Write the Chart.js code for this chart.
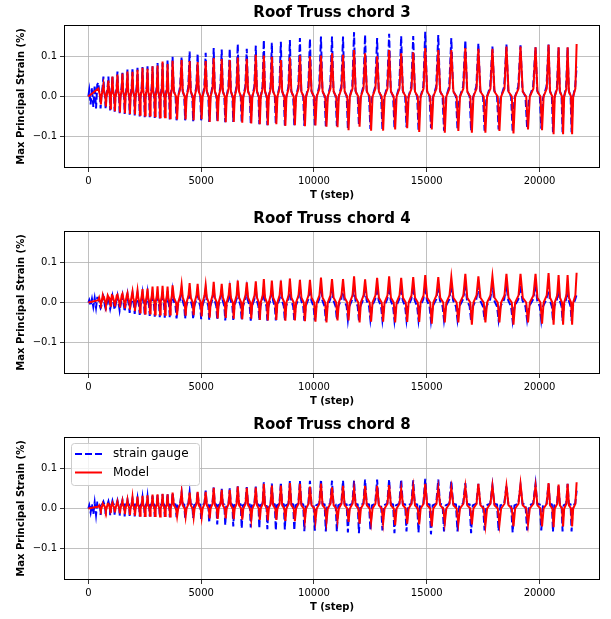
<!DOCTYPE html>
<html lang="en">
<head>
<meta charset="UTF-8">
<title>Roof Truss chords</title>
<script src="https://cdn.jsdelivr.net/npm/chart.js"></script>
<style>
  body { margin: 0; padding: 0; background: #fff; }
  .panel { position: absolute; left: 0; width: 611px; height: 206px; }
</style>
</head>
<body>
<div class="panel" style="top:0px"><canvas id="chord3" width="611" height="206"></canvas></div>
<div class="panel" style="top:206px"><canvas id="chord4" width="611" height="206"></canvas></div>
<div class="panel" style="top:412px"><canvas id="chord8" width="611" height="206"></canvas></div>
<script>
// peak times of each loading cycle (steps), shared by all chords
const cycleSteps = [444, 667, 889, 1067, 1289, 1511, 1733, 1956, 2178, 2400,
  2622, 2844, 3067, 3289, 3511, 3733, 4133, 4489, 4844, 5200,
  5556, 5911, 6267, 6622, 7022, 7422, 7778, 8133, 8533, 8933,
  9378, 9822, 10311, 10800, 11289, 11778, 12267, 12800, 13333, 13867,
  14400, 14933, 15511, 16089, 16711, 17289, 17911, 18533, 19156, 19822,
  20400, 20844, 21244, 21644];

// where inside a cycle the plateau / trough points sit (fraction of cycle)
const modelPhase = [0.15, 0.38, 0.5, 0.62, 0.86];
const gaugePhase = [0.13, 0.33, 0.44, 0.57, 0.84];

// chord 3
const c3ModelPeaks = [0.02, 0.03, 0.04, 0.05, 0.055, 0.058, 0.063, 0.062, 0.067, 0.072,
  0.07, 0.076, 0.078, 0.088, 0.082, 0.09, 0.092, 0.089, 0.087, 0.089,
  0.097, 0.094, 0.092, 0.098, 0.095, 0.105, 0.103, 0.1, 0.092, 0.098,
  0.103, 0.101, 0.103, 0.109, 0.105, 0.117, 0.109, 0.101, 0.117, 0.109,
  0.111, 0.122, 0.117, 0.117, 0.122, 0.12, 0.12, 0.126, 0.126, 0.124,
  0.13, 0.124, 0.124, 0.132];
const c3ModelTroughs = [-0.02, -0.025, -0.03, -0.037, -0.04, -0.042, -0.044, -0.045, -0.046, -0.048,
  -0.048, -0.05, -0.052, -0.052, -0.055, -0.058, -0.058, -0.06, -0.057, -0.064,
  -0.062, -0.065, -0.064, -0.066, -0.068, -0.07, -0.072, -0.07, -0.074, -0.072,
  -0.075, -0.073, -0.076, -0.077, -0.085, -0.076, -0.086, -0.086, -0.083, -0.08,
  -0.089, -0.083, -0.091, -0.087, -0.091, -0.091, -0.087, -0.093, -0.083, -0.085,
  -0.095, -0.095, -0.095];
const c3GaugePeaks = [0.035, 0.05, 0.05, 0.052, 0.063, 0.063, 0.068, 0.072, 0.072, 0.074,
  0.076, 0.076, 0.084, 0.084, 0.092, 0.1, 0.1, 0.113, 0.108, 0.11,
  0.122, 0.118, 0.12, 0.132, 0.12, 0.128, 0.142, 0.135, 0.138, 0.142,
  0.147, 0.145, 0.151, 0.151, 0.151, 0.162, 0.155, 0.147, 0.158, 0.152,
  0.152, 0.163, 0.155, 0.147, 0.142, 0.134, 0.126, 0.131, 0.129, 0.124,
  0.131, 0.123, 0.123, 0.075];
const c3GaugeTroughs = [-0.03, -0.032, -0.035, -0.038, -0.042, -0.044, -0.046, -0.048, -0.05, -0.052,
  -0.052, -0.054, -0.056, -0.056, -0.058, -0.06, -0.06, -0.062, -0.06, -0.064,
  -0.062, -0.065, -0.064, -0.066, -0.068, -0.07, -0.072, -0.07, -0.073, -0.072,
  -0.074, -0.072, -0.075, -0.074, -0.081, -0.073, -0.082, -0.082, -0.079, -0.077,
  -0.085, -0.079, -0.086, -0.083, -0.086, -0.086, -0.083, -0.088, -0.08, -0.081,
  -0.09, -0.09, -0.09];
// fast small wiggle of the gauge before the first cycle: [step, value]
const c3GaugeLead = [[40, 0.016], [100, -0.02], [160, 0.022], [220, -0.026], [280, 0.028], [340, -0.03], [395, 0.03]];
const c3ModelLevels = [0.012, 0.0, 0.0, 0.02];
const c3GaugeLevels = [0.015, 0.0, -0.005, 0.025];

// chord 4
const c4ModelPeaks = [0.006, 0.01, 0.014, 0.017, 0.02, 0.022, 0.024, 0.028, 0.031, 0.034,
  0.035, 0.04, 0.041, 0.042, 0.04, 0.043, 0.045, 0.049, 0.047, 0.044,
  0.052, 0.047, 0.049, 0.055, 0.051, 0.053, 0.059, 0.055, 0.055, 0.06,
  0.057, 0.057, 0.063, 0.059, 0.059, 0.066, 0.058, 0.062, 0.066, 0.062,
  0.064, 0.069, 0.064, 0.064, 0.072, 0.066, 0.066, 0.072, 0.072, 0.072,
  0.074, 0.069, 0.069, 0.075];
const c4ModelTroughs = [-0.004, -0.006, -0.008, -0.01, -0.012, -0.015, -0.018, -0.022, -0.025, -0.028,
  -0.028, -0.03, -0.03, -0.031, -0.03, -0.032, -0.033, -0.032, -0.035, -0.038,
  -0.04, -0.039, -0.041, -0.042, -0.041, -0.044, -0.045, -0.044, -0.046, -0.045,
  -0.047, -0.048, -0.05, -0.045, -0.045, -0.05, -0.048, -0.048, -0.05, -0.049,
  -0.049, -0.053, -0.05, -0.05, -0.056, -0.05, -0.05, -0.056, -0.05, -0.053,
  -0.056, -0.056, -0.056];
const c4GaugePeaks = [0.012, 0.014, 0.015, 0.016, 0.017, 0.018, 0.02, 0.021, 0.022, 0.023,
  0.024, 0.025, 0.026, 0.027, 0.028, 0.029, 0.03, 0.031, 0.031, 0.032,
  0.034, 0.033, 0.034, 0.036, 0.035, 0.036, 0.038, 0.037, 0.037, 0.039,
  0.038, 0.038, 0.04, 0.039, 0.04, 0.042, 0.04, 0.041, 0.042, 0.041,
  0.042, 0.043, 0.042, 0.042, 0.044, 0.043, 0.042, 0.044, 0.043, 0.043,
  0.044, 0.042, 0.042, 0.02];
const c4GaugeTroughs = [-0.014, -0.015, -0.016, -0.018, -0.02, -0.023, -0.026, -0.029, -0.031, -0.033,
  -0.034, -0.036, -0.037, -0.038, -0.039, -0.04, -0.041, -0.042, -0.042, -0.043,
  -0.044, -0.045, -0.044, -0.045, -0.046, -0.045, -0.046, -0.045, -0.046, -0.045,
  -0.046, -0.045, -0.046, -0.043, -0.043, -0.045, -0.043, -0.044, -0.045, -0.044,
  -0.044, -0.046, -0.044, -0.044, -0.046, -0.044, -0.044, -0.046, -0.044, -0.045,
  -0.046, -0.046, -0.046];
const c4GaugeLead = [[40, 0.006], [100, -0.008], [160, 0.009], [220, -0.011], [280, 0.011], [340, -0.013], [395, 0.012]];
const c4ModelLevels = [0.012, 0.0, 0.0, 0.018];
const c4GaugeLevels = [0.005, -0.01, -0.01, 0.008];

// chord 8
const c8ModelPeaks = [0.005, 0.008, 0.012, 0.015, 0.018, 0.02, 0.022, 0.028, 0.03, 0.032,
  0.033, 0.035, 0.036, 0.037, 0.036, 0.04, 0.041, 0.04, 0.042, 0.042,
  0.052, 0.047, 0.047, 0.055, 0.052, 0.053, 0.062, 0.058, 0.058, 0.064,
  0.062, 0.055, 0.063, 0.053, 0.057, 0.049, 0.057, 0.057, 0.059, 0.049,
  0.053, 0.062, 0.052, 0.052, 0.055, 0.062, 0.057, 0.057, 0.062, 0.057,
  0.064, 0.06, 0.062, 0.066];
const c8ModelTroughs = [-0.004, -0.006, -0.008, -0.01, -0.012, -0.014, -0.016, -0.018, -0.018, -0.019,
  -0.018, -0.019, -0.02, -0.019, -0.02, -0.02, -0.021, -0.022, -0.022, -0.025,
  -0.026, -0.025, -0.027, -0.028, -0.027, -0.029, -0.03, -0.029, -0.031, -0.032,
  -0.03, -0.031, -0.033, -0.03, -0.034, -0.038, -0.034, -0.036, -0.042, -0.038,
  -0.04, -0.045, -0.036, -0.038, -0.04, -0.042, -0.04, -0.045, -0.04, -0.045,
  -0.047, -0.045, -0.045];
const c8GaugePeaks = [0.015, 0.017, 0.018, 0.019, 0.02, 0.021, 0.022, 0.024, 0.026, 0.028,
  0.03, 0.032, 0.034, 0.036, 0.038, 0.04, 0.04, 0.041, 0.042, 0.045,
  0.053, 0.05, 0.051, 0.056, 0.054, 0.055, 0.066, 0.063, 0.066, 0.07,
  0.07, 0.07, 0.073, 0.07, 0.07, 0.07, 0.073, 0.073, 0.073, 0.073,
  0.071, 0.075, 0.073, 0.07, 0.064, 0.062, 0.058, 0.058, 0.058, 0.062,
  0.062, 0.058, 0.062, 0.045];
const c8GaugeTroughs = [-0.016, -0.017, -0.018, -0.018, -0.019, -0.02, -0.02, -0.02, -0.02, -0.021,
  -0.02, -0.021, -0.02, -0.021, -0.022, -0.022, -0.023, -0.024, -0.026, -0.036,
  -0.04, -0.042, -0.045, -0.05, -0.048, -0.05, -0.052, -0.055, -0.053, -0.055,
  -0.057, -0.056, -0.058, -0.058, -0.06, -0.062, -0.055, -0.055, -0.062, -0.058,
  -0.06, -0.065, -0.058, -0.058, -0.062, -0.055, -0.056, -0.06, -0.055, -0.055,
  -0.058, -0.058, -0.058];
const c8GaugeLead = [[40, 0.008], [100, -0.01], [160, 0.012], [220, -0.014], [280, 0.015], [340, -0.016], [395, 0.015]];
const c8ModelLevels = [0.008, 0.0, 0.0, 0.012];
const c8GaugeLevels = [0.012, 0.01, 0.008, 0.012];

const xTicks = [0, 5000, 10000, 15000, 20000];
const yTicks = [-0.1, 0.0, 0.1];

Chart.defaults.font.family = "'DejaVu Sans', sans-serif";
Chart.defaults.color = '#000';

// turn the per-cycle readings into a polyline: peak, plateau, trough, plateau, next peak
function buildSeries(peaks, troughs, levels, phase, lead) {
  const pts = [{x: 0, y: 0}];
  (lead || []).forEach(([x, y]) => pts.push({x, y}));
  for (let i = 0; i < cycleSteps.length; i++) {
    pts.push({x: cycleSteps[i], y: peaks[i]});
    if (i < troughs.length) {
      const t0 = cycleSteps[i];
      const span = cycleSteps[i + 1] - t0;
      const ys = [levels[0], levels[1], troughs[i], levels[2], levels[3]];
      phase.forEach((p, k) => pts.push({x: t0 + span * p, y: ys[k]}));
    }
  }
  return pts;
}

// full box around the axes and the axes title, like matplotlib
const framePlugin = {
  id: 'frame',
  afterDatasetsDraw(chart, args, opts) {
    const a = chart.chartArea, ctx = chart.ctx;
    ctx.save();
    ctx.strokeStyle = '#000';
    ctx.lineWidth = 1;
    ctx.strokeRect(Math.round(a.left) + 0.5, Math.round(a.top) + 0.5,
      Math.round(a.right - a.left) - 1, Math.round(a.bottom - a.top) - 1);
    ctx.fillStyle = '#000';
    ctx.font = "bold 15px 'DejaVu Sans'";
    ctx.textAlign = 'center';
    ctx.textBaseline = 'middle';
    ctx.fillText(opts.title, (a.left + a.right) / 2, 13);
    ctx.restore();
  }
};

const legendPlugin = {
  id: 'boxLegend',
  afterDraw(chart, args, opts) {
    if (!opts.show) return;
    const a = chart.chartArea, ctx = chart.ctx;
    const x = a.left + 7, y = a.top + 6, w = 128, h = 42;
    ctx.save();
    ctx.fillStyle = 'rgba(255,255,255,0.8)';
    ctx.strokeStyle = '#cccccc';
    ctx.lineWidth = 1;
    ctx.beginPath();
    ctx.roundRect(x + 0.5, y + 0.5, w, h, 3);
    ctx.fill();
    ctx.stroke();
    ctx.font = "12px 'DejaVu Sans'";
    ctx.textBaseline = 'middle';
    chart.data.datasets.forEach((ds, i) => {
      const ly = y + 11 + i * 18.5;
      ctx.strokeStyle = ds.borderColor;
      ctx.lineWidth = ds.borderWidth;
      ctx.setLineDash(ds.borderDash || []);
      ctx.beginPath();
      ctx.moveTo(x + 4, ly);
      ctx.lineTo(x + 31, ly);
      ctx.stroke();
      ctx.setLineDash([]);
      ctx.fillStyle = '#000';
      ctx.fillText(ds.label, x + 42, ly);
    });
    ctx.restore();
  }
};

function makeChart(id, title, gauge, model, showLegend) {
  new Chart(document.getElementById(id), {
    type: 'line',
    data: {
      datasets: [{
        label: 'strain gauge',
        data: gauge,
        borderColor: '#0000ff',
        borderWidth: 2,
        borderDash: [7, 3],
        pointRadius: 0,
        tension: 0,
        order: 2
      }, {
        label: 'Model',
        data: model,
        borderColor: '#ff0000',
        borderWidth: 2,
        pointRadius: 0,
        tension: 0,
        order: 1
      }]
    },
    options: {
      responsive: false,
      animation: false,
      layout: { padding: { left: 0, right: 11, top: 25, bottom: 0 } },
      plugins: {
        legend: { display: false },
        tooltip: { enabled: false },
        title: { display: false },
        frame: { title: title },
        boxLegend: { show: showLegend }
      },
      scales: {
        x: {
          type: 'linear',
          min: -1080,
          max: 22680,
          afterBuildTicks: s => { s.ticks = xTicks.map(v => ({value: v})); },
          afterFit: s => { s.height = 38; },
          ticks: { font: { size: 10 }, color: '#000', maxRotation: 0, padding: 3,
                   callback: v => String(v) },
          grid: { color: '#b0b0b0', lineWidth: 0.8, tickColor: '#000', tickLength: 4 },
          border: { display: false },
          title: { display: true, text: 'T (step)', font: { size: 10, weight: 'bold' },
                   color: '#000', padding: { top: 0, bottom: 5 } }
        },
        y: {
          min: -0.18,
          max: 0.18,
          afterBuildTicks: s => { s.ticks = yTicks.map(v => ({value: v})); },
          afterFit: s => { s.width = 64; },
          ticks: { font: { size: 10 }, color: '#000', padding: 3,
                   callback: v => (v < 0 ? '\u2212' : '') + Math.abs(v).toFixed(1) },
          grid: { color: '#b0b0b0', lineWidth: 0.8, tickColor: '#000', tickLength: 4 },
          border: { display: false },
          title: { display: true, text: 'Max Principal Strain (%)', font: { size: 10, weight: 'bold' },
                   color: '#000', padding: { top: 15, bottom: 0 } }
        }
      }
    },
    plugins: [framePlugin, legendPlugin]
  });
}

makeChart('chord3', 'Roof Truss chord 3',
  buildSeries(c3GaugePeaks, c3GaugeTroughs, c3GaugeLevels, gaugePhase, c3GaugeLead),
  buildSeries(c3ModelPeaks, c3ModelTroughs, c3ModelLevels, modelPhase), false);
makeChart('chord4', 'Roof Truss chord 4',
  buildSeries(c4GaugePeaks, c4GaugeTroughs, c4GaugeLevels, gaugePhase, c4GaugeLead),
  buildSeries(c4ModelPeaks, c4ModelTroughs, c4ModelLevels, modelPhase), false);
makeChart('chord8', 'Roof Truss chord 8',
  buildSeries(c8GaugePeaks, c8GaugeTroughs, c8GaugeLevels, gaugePhase, c8GaugeLead),
  buildSeries(c8ModelPeaks, c8ModelTroughs, c8ModelLevels, modelPhase), true);
</script>
</body>
</html>
